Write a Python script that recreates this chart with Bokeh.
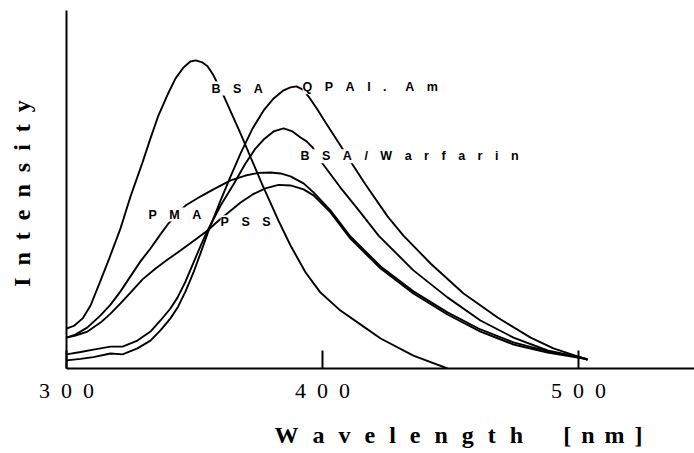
from bokeh.plotting import figure
from bokeh.models import Range1d, Label, FixedTicker
from bokeh.embed import file_html
from bokeh.resources import INLINE

# ---------------- data ----------------
# wavelength [nm] and relative intensity (arbitrary units)
bsa_nm = [300.0, 303.1, 306.3, 309.4, 313.3, 316.4, 321.1, 325.0, 329.7, 332.8,
          335.9, 339.5, 342.6, 345.7, 348.4, 350.4, 353.1, 355.1, 357.4, 359.4,
          361.7, 368.0, 376.6, 382.8, 387.5, 393.4, 399.2, 407.0, 414.8, 422.7,
          435.5, 448.8]
bsa_int = [13.3, 14.3, 16.7, 21.0, 29.3, 36.0, 46.7, 57.3, 68.7, 76.7,
           84.3, 91.3, 96.7, 100.3, 102.3, 102.7, 102.0, 100.7, 97.7, 94.3,
           90.3, 78.3, 61.0, 49.3, 41.0, 32.0, 25.3, 19.3, 14.7, 10.0,
           4.3, 0.0]

qpal_nm = [300.0, 305.5, 310.5, 317.2, 321.9, 327.7, 332.8, 336.7, 340.6, 343.4,
           346.5, 349.6, 352.3, 355.1, 360.2, 364.1, 368.0, 372.7, 377.0, 380.9,
           384.8, 387.5, 389.8, 392.2, 394.5, 397.7, 401.2, 407.0, 410.2, 416.8,
           425.4, 431.6, 442.2, 455.1, 468.4, 481.3, 490.2, 500.8, 503.5]
qpal_int = [2.7, 3.2, 3.8, 5.0, 4.7, 6.7, 9.3, 12.7, 16.7, 20.3,
            25.7, 32.0, 38.3, 45.0, 56.0, 64.0, 71.7, 80.0, 86.0, 90.0,
            92.7, 93.7, 94.0, 93.0, 90.7, 86.7, 82.0, 74.3, 70.0, 61.3,
            50.7, 44.3, 35.0, 25.0, 17.0, 10.3, 6.7, 3.7, 3.0]

bsaw_nm = [300.0, 305.5, 310.5, 317.2, 321.9, 327.7, 332.8, 336.7, 340.6, 343.4,
           346.5, 349.6, 352.3, 355.1, 360.2, 365.2, 369.9, 373.8, 377.0, 380.9,
           384.8, 388.3, 391.4, 393.8, 396.1, 398.0, 400.0, 407.0, 414.8, 421.9,
           435.5, 448.8, 461.7, 474.6, 487.9, 500.8, 503.5]
bsaw_int = [4.7, 5.5, 6.3, 7.3, 7.3, 9.3, 12.3, 16.0, 20.0, 23.7,
            29.0, 35.3, 40.7, 46.0, 54.3, 61.3, 68.3, 73.3, 76.3, 79.0,
            80.0, 79.0, 77.0, 75.7, 73.7, 71.0, 68.3, 60.3, 52.0, 44.3,
            32.7, 23.7, 16.0, 10.3, 6.0, 3.7, 3.0]

pma_nm = [300.0, 303.5, 308.2, 313.3, 317.2, 321.1, 324.2, 328.9, 332.8, 336.7,
          339.8, 343.4, 346.5, 352.3, 357.4, 364.1, 369.9, 375.0, 379.7, 383.6,
          387.5, 392.6, 396.5, 403.1, 410.9, 422.7, 435.5, 448.8, 461.7, 474.6,
          487.9, 500.8, 503.5]
pma_int = [10.3, 11.3, 13.7, 17.7, 21.3, 25.7, 29.7, 35.7, 40.0, 44.7,
           48.3, 51.7, 54.3, 57.3, 59.7, 62.7, 64.3, 65.2, 65.3, 65.0,
           64.0, 61.7, 58.7, 52.7, 44.0, 34.0, 25.7, 18.7, 13.0, 8.7,
           5.7, 3.7, 3.0]

pss_nm = [300.0, 303.5, 308.2, 313.3, 317.2, 321.1, 325.0, 329.7, 334.8, 339.5,
          344.5, 350.4, 355.1, 359.0, 362.9, 368.0, 372.7, 377.7, 382.8, 387.5,
          392.6, 396.5, 403.1, 410.9, 422.7, 435.5, 448.8, 461.7, 474.6, 487.9,
          500.8, 503.5]
pss_int = [10.3, 11.0, 12.3, 15.3, 18.3, 21.7, 25.3, 29.7, 33.3, 36.3,
           39.3, 43.0, 46.0, 49.0, 51.7, 55.3, 58.0, 60.0, 61.2, 61.0,
           59.7, 57.7, 52.0, 43.3, 33.3, 25.0, 18.0, 12.3, 8.0, 5.3,
           3.5, 3.0]

series_names = ["BSA", "QPAl. Am", "BSA/Warfarin", "PMA", "PSS"]
series_nm = [bsa_nm, qpal_nm, bsaw_nm, pma_nm, pss_nm]
series_int = [bsa_int, qpal_int, bsaw_int, pma_int, pss_int]

# where each curve's name is written (nm, intensity of the text's left-middle)
label_nm = [356.6, 392.2, 391.4, 332.0, 360.2]
label_int = [93.3, 93.7, 70.7, 51.3, 48.7]

x_ticks = [300, 400, 500]
x_tick_labels = ["300", "400", "500"]
x_title = "Wavelength [nm]"
y_title = "Intensity"

# ---------------- helpers ----------------
EM = "\u2003"
EN = "\u2002"
THREE = "\u2004"
SIX = "\u2006"
HAIR = "\u200a"


def spaced(s, sep, word_gap):
    parts = []
    for word in s.split(" "):
        parts.append(sep.join(word))
    return word_gap.join(parts)


# ---------------- figure ----------------
p = figure(frame_width=628, frame_height=358,
           min_border_left=66, min_border_right=0,
           min_border_top=10, min_border_bottom=85,
           x_range=Range1d(300, 545.3), y_range=Range1d(0, 119.3),
           output_backend="svg", toolbar_location=None)
p.outline_line_color = None
p.xgrid.visible = False
p.ygrid.visible = False
p.background_fill_color = "white"
p.border_fill_color = "white"

for xs, ys in zip(series_nm, series_int):
    p.line(xs, ys, line_color="black", line_width=1.9)

for name, lx, ly in zip(series_names, label_nm, label_int):
    p.add_layout(Label(x=lx, y=ly, text=spaced(name, EM, EM + EN),
                       text_font="Liberation Sans", text_font_size="12.5px",
                       text_font_style="bold",
                       text_color="black", text_align="left",
                       text_baseline="middle",
                       background_fill_color="white",
                       background_fill_alpha=1.0))

# x axis
xa = p.xaxis[0]
xa.ticker = FixedTicker(ticks=x_ticks)
xa.major_label_overrides = {t: EN.join(lbl) for t, lbl in zip(x_ticks, x_tick_labels)}
xa.major_tick_in = 18
xa.major_tick_out = 0
xa.minor_tick_line_color = None
xa.axis_line_width = 2
xa.major_tick_line_width = 2
xa.axis_line_color = "black"
xa.major_label_text_font = "Liberation Serif"
xa.major_label_text_font_size = "22px"
xa.major_label_text_color = "black"
xa.major_label_standoff = 9
xw, xu = x_title.split(" ")
xa.axis_label = (EM * 6 + EN + (EN + HAIR).join(xw) + EM + EN + SIX
                 + (THREE + HAIR).join(xu))
xa.axis_label_text_font = "Liberation Serif"
xa.axis_label_text_font_style = "bold"
xa.axis_label_text_font_size = "24px"
xa.axis_label_text_color = "black"
xa.axis_label_standoff = 16

# y axis
ya = p.yaxis[0]
ya.ticker = FixedTicker(ticks=[])
ya.major_tick_line_color = None
ya.minor_tick_line_color = None
ya.major_label_text_font_size = "0px"
ya.axis_line_width = 2
ya.axis_line_color = "black"
ya.axis_label = EN.join(y_title) + THREE
ya.axis_label_text_font = "Liberation Serif"
ya.axis_label_text_font_style = "bold"
ya.axis_label_text_font_size = "24px"
ya.axis_label_text_color = "black"
ya.axis_label_standoff = 32

open("out.html", "w").write(file_html(p, INLINE))
